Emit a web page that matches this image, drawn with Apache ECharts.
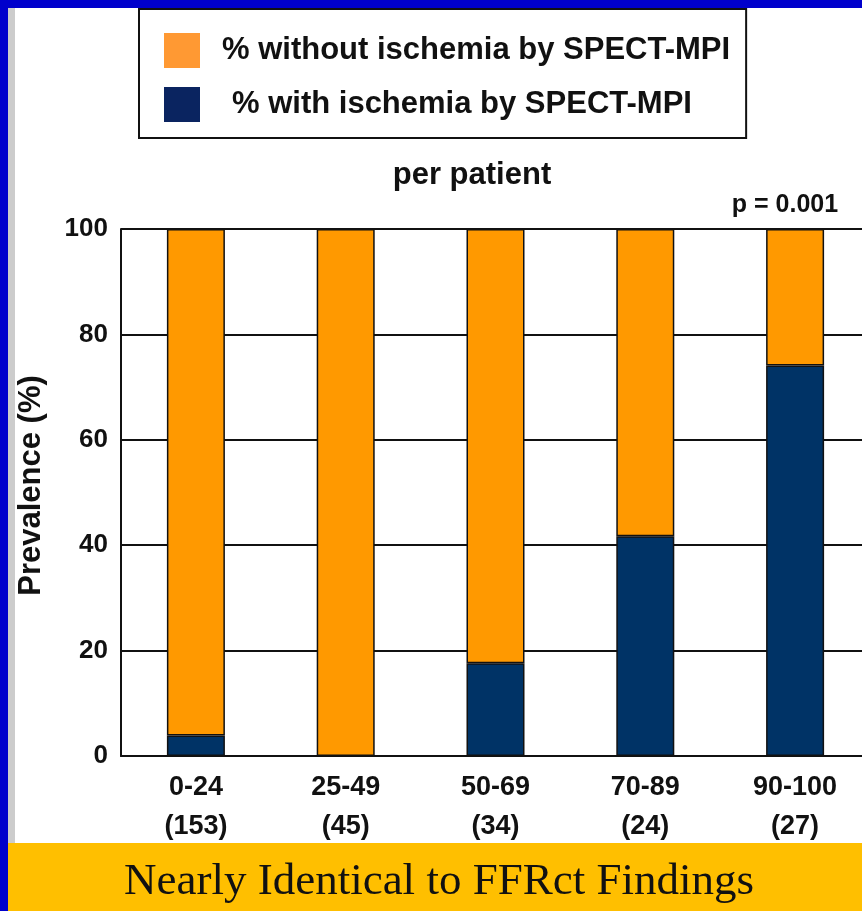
<!DOCTYPE html>
<html>
<head>
<meta charset="utf-8">
<script src="https://cdn.jsdelivr.net/npm/echarts@6/dist/echarts.min.js"></script>
<style>
  html, body { margin: 0; padding: 0; background: #fff; overflow: hidden; }
  /* the plot runs past the right edge of the slide, so the canvas is a bit wider than the window */
  #chart { width: 880px; height: 911px; }
</style>
</head>
<body>
<div id="chart"></div>
<script>
// FFR category groups and patient counts per group
const categories = ['0-24', '25-49', '50-69', '70-89', '90-100'];
const patientCounts = ['(153)', '(45)', '(34)', '(24)', '(27)'];

// Prevalence (%) per group
const withIschemia = [3.9, 0, 17.6, 41.7, 74.1];
const withoutIschemia = [96.1, 100, 82.4, 58.3, 25.9];

// Y axis range
const yMin = 0;
const yMax = 100;
const yStep = 20;

const seriesNames = ['% without ischemia by SPECT-MPI', '% with ischemia by SPECT-MPI'];

const ORANGE = '#FF9900';
const NAVY = '#003366';
const FONT = 'Arial, "Liberation Sans", sans-serif';

const chart = echarts.init(document.getElementById('chart'), null, { renderer: 'canvas' });

chart.setOption({
  backgroundColor: '#ffffff',
  animation: false,
  grid: { left: 121, top: 229, width: 749, height: 527 },
  legend: {
    orient: 'vertical',
    left: 139,
    top: 9,
    padding: [24, 16, 16, 25],
    itemWidth: 36,
    itemHeight: 35,
    itemGap: 19,
    itemStyle: { borderWidth: 0 },
    backgroundColor: '#ffffff',
    borderColor: '#111111',
    borderWidth: 2,
    borderRadius: 0,
    selectedMode: false,
    icon: 'rect',
    textStyle: {
      fontFamily: FONT,
      fontWeight: 'bold',
      fontSize: 31,
      color: '#111111',
      padding: [0, 0, 0, 17]
    },
    data: [
      { name: seriesNames[0], itemStyle: { color: '#FF9933' } },
      {
        name: seriesNames[1],
        itemStyle: { color: '#0A2460' },
        textStyle: { padding: [0, 0, 0, 27] }
      }
    ]
  },
  xAxis: {
    type: 'category',
    data: categories,
    axisLine: { show: true, lineStyle: { color: '#111111', width: 2 } },
    axisTick: { show: false },
    splitLine: { show: false },
    axisLabel: {
      margin: 12,
      interval: 0,
      fontFamily: FONT,
      fontWeight: 'bold',
      fontSize: 27,
      lineHeight: 39,
      color: '#111111',
      formatter: function (value, idx) {
        return value + '\n' + patientCounts[idx];
      }
    }
  },
  yAxis: {
    type: 'value',
    min: yMin,
    max: yMax,
    interval: yStep,
    name: 'Prevalence (%)',
    nameLocation: 'middle',
    nameRotate: 90,
    nameGap: 74,
    nameTextStyle: {
      fontFamily: FONT,
      fontWeight: 'bold',
      fontSize: 31,
      color: '#111111',
      padding: [0, 0, 0, 14]
    },
    axisLine: { show: true, lineStyle: { color: '#111111', width: 2 } },
    axisTick: { show: false },
    splitLine: { show: true, lineStyle: { color: '#111111', width: 2 } },
    axisLabel: {
      margin: 13,
      fontFamily: FONT,
      fontWeight: 'bold',
      fontSize: 26,
      color: '#111111'
    }
  },
  series: [
    {
      name: seriesNames[1],
      type: 'bar',
      stack: 'prev',
      barWidth: 58,
      data: withIschemia,
      itemStyle: { color: NAVY, borderColor: '#111111', borderWidth: 1.5 },
      z: 3
    },
    {
      name: seriesNames[0],
      type: 'bar',
      stack: 'prev',
      barWidth: 58,
      data: withoutIschemia,
      itemStyle: { color: ORANGE, borderColor: '#111111', borderWidth: 1.5 },
      z: 3
    }
  ],
  graphic: [
    // slide frame: blue edges, grey inner strip
    { type: 'rect', z: -10, shape: { x: 0, y: 0, width: 880, height: 8 }, style: { fill: '#0000CC' } },
    { type: 'rect', z: -10, shape: { x: 0, y: 0, width: 8, height: 911 }, style: { fill: '#0000CC' } },
    { type: 'rect', z: -10, shape: { x: 8, y: 8, width: 7, height: 835 }, style: { fill: '#CCCCCC' } },
    // bottom banner
    { type: 'rect', z: -10, shape: { x: 8, y: 843, width: 872, height: 68 }, style: { fill: '#FFBF00' } },
    {
      type: 'text', z: 10, x: 439, y: 882,
      style: {
        text: 'Nearly Identical to FFRct Findings',
        textAlign: 'center', textVerticalAlign: 'middle',
        font: '45px "Liberation Serif", "Times New Roman", serif',
        fill: '#111111'
      }
    },
    {
      type: 'text', z: 10, x: 472, y: 175,
      style: {
        text: 'per patient',
        textAlign: 'center', textVerticalAlign: 'middle',
        font: 'bold 31px Arial, "Liberation Sans", sans-serif',
        fill: '#111111'
      }
    },
    {
      type: 'text', z: 10, x: 785, y: 205,
      style: {
        text: 'p = 0.001',
        textAlign: 'center', textVerticalAlign: 'middle',
        font: 'bold 25px Arial, "Liberation Sans", sans-serif',
        fill: '#111111'
      }
    }
  ]
});
</script>
</body>
</html>
